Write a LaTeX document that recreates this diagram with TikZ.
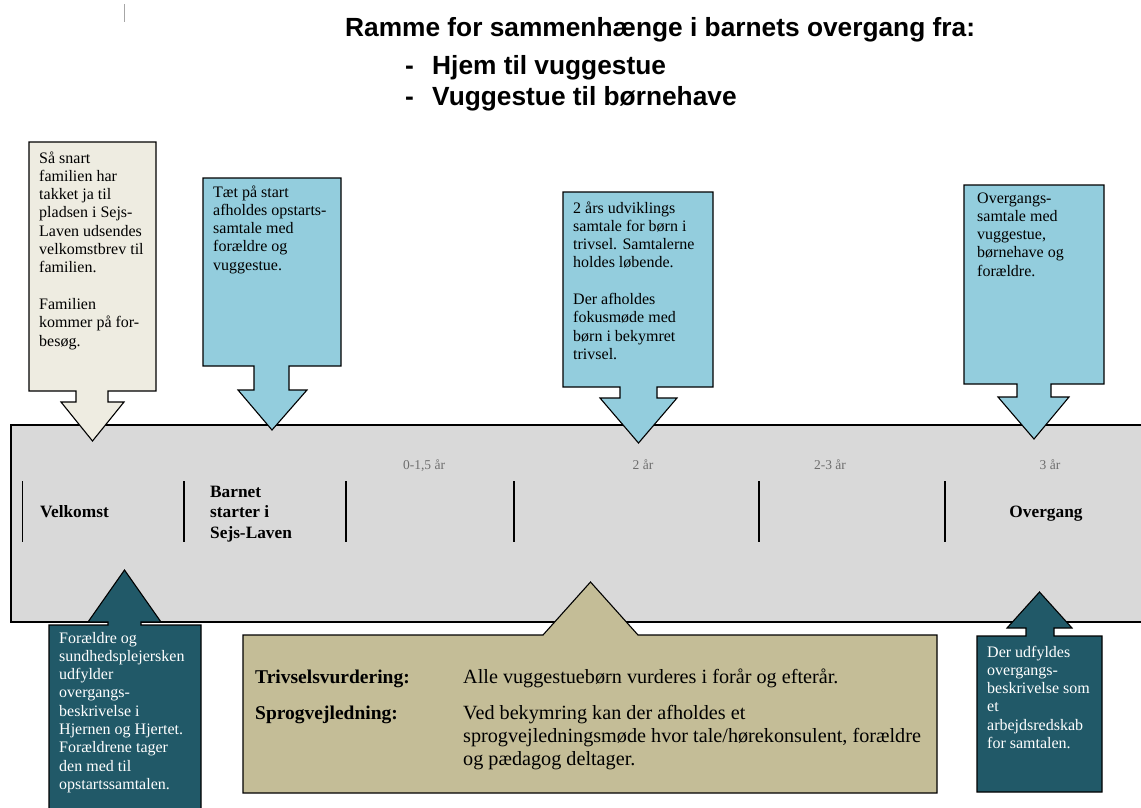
\documentclass[tikz,border=0pt]{standalone}
\usepackage{fontspec}
\setmainfont{Liberation Serif}
\newfontfamily\titlefont{Liberation Sans}
\definecolor{beige}{HTML}{EEECE1}
\definecolor{lblue}{HTML}{93CDDD}
\definecolor{teal}{HTML}{215968}
\definecolor{khaki}{HTML}{C4BD97}
\definecolor{band}{HTML}{D9D9D9}
\definecolor{agegray}{HTML}{6E6E6E}
\tikzset{
  callout/.style={draw=black, line width=1.1pt, line join=miter},
  title/.style={inner sep=0pt, anchor=base west, font=\titlefont\bfseries\fontsize{26.3}{30}\selectfont},
  boxtxt/.style={inner sep=0pt, anchor=north west, align=left, font=\fontsize{16}{18.3}\selectfont},
  bandlbl/.style={inner sep=0pt, font=\bfseries\fontsize{17.3}{20.5}\selectfont},
  agelbl/.style={inner sep=0pt, anchor=base, text=agegray, font=\fontsize{13.5}{16}\selectfont},
  ktxt/.style={inner sep=0pt, anchor=base west, font=\fontsize{20.2}{23}\selectfont},
  kbold/.style={inner sep=0pt, anchor=base west, font=\bfseries\fontsize{19.5}{23}\selectfont},
  sep/.style={line width=1.4pt}
}
\begin{document}
\begin{tikzpicture}[x=1pt,y=-1pt]
\useasboundingbox (0,0) rectangle (1141,807);
\fill[white] (0,0) rectangle (1141,807);
% stray mark
\draw[gray!70, line width=1pt] (124,4) -- (124,22);
% title
\node[title] (t0) at (345,36) {Ramme for sammenhænge i barnets overgang fra:};
\node[title] (d1) at (405,74) {-};
\node[title] (t1) at (432,74) {Hjem til vuggestue};
\node[title] (d2) at (405,105) {-};
\node[title] (t2) at (432,105) {Vuggestue til børnehave};
% band
\draw[fill=band, line width=1.4pt] (11,425) rectangle (1170,622);
\foreach \x in {22.5,184,346,514,759,945} \draw[sep] (\x,481) -- (\x,542);
\node[bandlbl, anchor=base west] (velk) at (40,517) {Velkomst};
\node[bandlbl, anchor=north west, align=left] (barn) at (210,482.6) {\strut Barnet\\starter i\\Sejs-Laven};
\node[bandlbl, anchor=base] (overg) at (1046,517) {Overgang};
\node[agelbl] (a1) at (424,469) {0-1,5 år};
\node[agelbl] (a2) at (643,469) {2 år};
\node[agelbl] (a3) at (830,469) {2-3 år};
\node[agelbl] (a4) at (1050,469) {3 år};
% top callouts
\draw[callout, fill=beige] (29,142) -- (156,142) -- (156,391) -- (108,391) -- (108,402) -- (124,402) -- (92.5,441) -- (61,402) -- (76,402) -- (76,391) -- (29,391) -- cycle;
\draw[callout, fill=lblue] (203,178) -- (341,178) -- (341,366) -- (289,366) -- (289,390) -- (307,390) -- (272,430) -- (238,390) -- (254,390) -- (254,366) -- (203,366) -- cycle;
\draw[callout, fill=lblue] (563,192) -- (713,192) -- (713,387) -- (657,387) -- (657,398) -- (677,398) -- (638.5,443) -- (600,398) -- (620,398) -- (620,387) -- (563,387) -- cycle;
\draw[callout, fill=lblue] (964,185) -- (1104,185) -- (1104,384) -- (1051,384) -- (1051,397) -- (1069,397) -- (1034,439) -- (998,397) -- (1017,397) -- (1017,384) -- (964,384) -- cycle;
% bottom callouts
\draw[callout, fill=teal] (49,815) -- (49,625) -- (108,625) -- (108,622) -- (88,622) -- (124.5,570) -- (161,622) -- (141,622) -- (141,625) -- (201,625) -- (201,815) -- cycle;
\draw[callout, fill=khaki] (243,793) -- (243,635) -- (543,635) -- (590.5,582) -- (638,635) -- (937,635) -- (937,793) -- cycle;
\draw[callout, fill=teal] (977,792) -- (977,636) -- (1026,636) -- (1026,628) -- (1007,628) -- (1039.5,592) -- (1072,628) -- (1054,628) -- (1054,636) -- (1102,636) -- (1102,792) -- cycle;
% callout texts
\node[boxtxt] (c1) at (39,150) {\strut Så snart\\familien har\\takket ja til\\pladsen i Sejs-\\Laven udsendes\\velkomstbrev til\\familien.\\[18.3pt]Familien\\kommer på for-\\besøg.};
\node[boxtxt] (c2) at (213,184) {\strut Tæt på start\\afholdes opstarts-\\samtale med\\forældre og\\vuggestue.};
\node[boxtxt] (c3) at (573,200) {\strut 2 års udviklings\\samtale for børn i\\trivsel. Samtalerne\\holdes løbende.\\[18.3pt]Der afholdes\\fokusmøde med\\børn i bekymret\\trivsel.};
\node[boxtxt] (c4) at (977,190) {\strut Overgangs-\\samtale med\\vuggestue,\\børnehave og\\forældre.};
\node[boxtxt, text=white] (c5) at (59,630) {\strut Forældre og\\sundhedsplejersken\\udfylder\\overgangs-\\beskrivelse i\\Hjernen og Hjertet.\\Forældrene tager\\den med til\\opstartssamtalen.};
\node[boxtxt, text=white] (c6) at (987,644) {\strut Der udfyldes\\overgangs-\\beskrivelse som\\et\\arbejdsredskab\\for samtalen.};
% khaki texts
\node[kbold] (k1) at (255,683) {Trivselsvurdering:};
\node[ktxt] (k2) at (463,683) {Alle vuggestuebørn vurderes i forår og efterår.};
\node[kbold] (k3) at (255,719) {Sprogvejledning:};
\node[ktxt, anchor=north west, align=left] (k4) at (463,702.9) {\strut Ved bekymring kan der afholdes et\\sprogvejledningsmøde hvor tale/hørekonsulent, forældre\\og pædagog deltager.};
\end{tikzpicture}
\end{document}
